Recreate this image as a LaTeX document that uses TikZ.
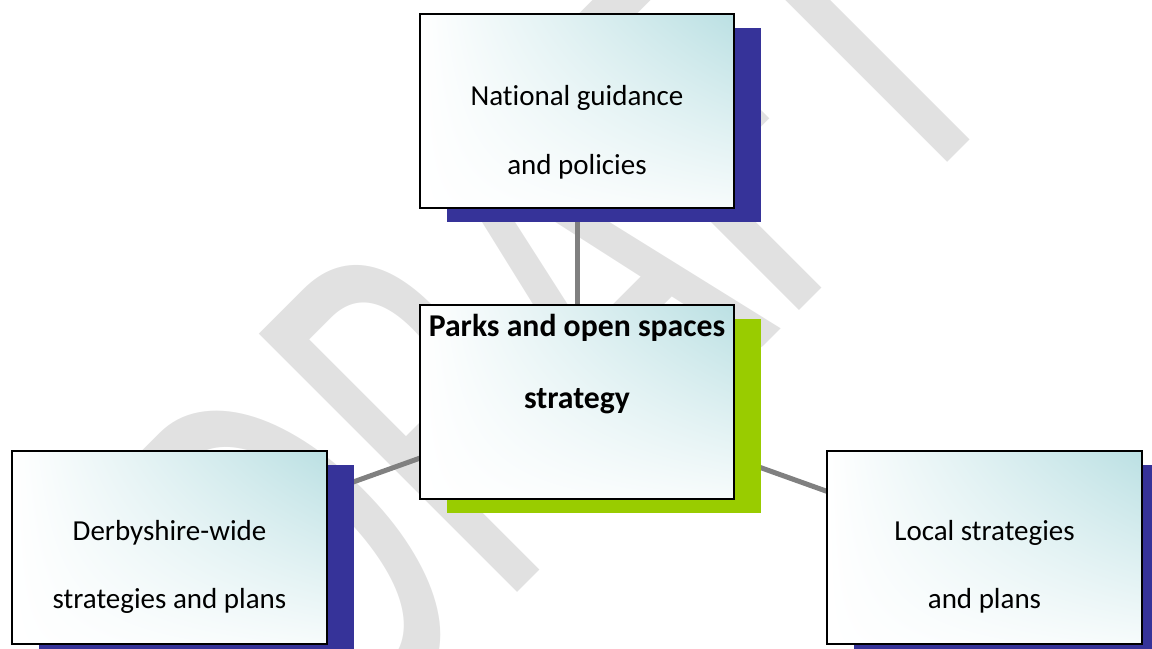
\documentclass[tikz,border=0pt]{standalone}
\usepackage{fontspec}
\usepackage{graphicx}
\usetikzlibrary{shadings}
\setmainfont{Carlito}[Ligatures=NoCommon]
\definecolor{tealcorner}{RGB}{187,224,227}
\definecolor{shadowblue}{RGB}{54,51,153}
\definecolor{shadowgreen}{RGB}{153,204,0}
\definecolor{conngray}{RGB}{128,128,128}
\definecolor{wmgray}{RGB}{225,225,225}
\newcommand\twolines[3]{\vtop{\baselineskip=#3\relax\lineskiplimit=-\maxdimen\halign{\hfil##\hfil\cr#1\cr#2\cr}}}
\pgfdeclarelayer{bg}
\pgfsetlayers{bg,main}
\begin{document}
\begin{tikzpicture}[x=0.75pt,y=-0.75pt,
  box/.style={draw=black, line width=1.5pt, inner sep=0pt, outer sep=0pt,
    minimum width=236pt, minimum height=145pt,
    upper left=white, lower left=white, upper right=tealcorner, lower right=tealcorner!12,
    text height=0pt},
  regular/.style={font=\fontsize{21.75}{26}\selectfont},
  boldtext/.style={font=\fontsize{23.8}{28}\selectfont\bfseries},
  conn/.style={draw=conngray, line width=3.75pt},
  wmark/.style={anchor=base west, rotate=45, inner sep=0pt, text=wmgray,
    font=\fontsize{427}{427}\selectfont},
  blueshadow/.style={fill=shadowblue},
  greenshadow/.style={fill=shadowgreen}]
\useasboundingbox (0,0) rectangle (1152,649);

\node[box, regular, text depth=7.5pt] (nat) at (577,111)
  {\twolines{National guidance}{and policies}{51.5pt}};
\node[box, boldtext, text depth=99pt] (ctr) at (577,402)
  {\twolines{Parks and open spaces}{strategy}{54pt}};
\node[box, regular, text depth=11.25pt] (derb) at (169.5,547.5)
  {\twolines{Derbyshire-wide}{strategies and plans}{51.5pt}};
\node[box, regular, text depth=11.25pt] (loc) at (984.5,547.5)
  {\twolines{Local strategies}{and plans}{51.5pt}};

\begin{pgfonlayer}{bg}
  \begin{scope}
    \clip (0,0) rectangle (1152,649);
    \node[wmark] (wm) at (345,765) {\scalebox{0.625}[1]{DRAFT}};
  \end{scope}
  \draw[conn] (nat) -- (ctr);
  \draw[conn] (ctr) -- (derb);
  \draw[conn] (ctr) -- (loc);
  \fill[blueshadow] ([shift={(27,14)}]nat.south west) rectangle ([shift={(27,14)}]nat.north east);
  \fill[greenshadow] ([shift={(27,14)}]ctr.south west) rectangle ([shift={(27,14)}]ctr.north east);
  \fill[blueshadow] ([shift={(27,14)}]derb.south west) rectangle ([shift={(27,14)}]derb.north east);
  \fill[blueshadow] ([shift={(27,14)}]loc.south west) rectangle ([shift={(27,14)}]loc.north east);
\end{pgfonlayer}
\end{tikzpicture}
\end{document}
